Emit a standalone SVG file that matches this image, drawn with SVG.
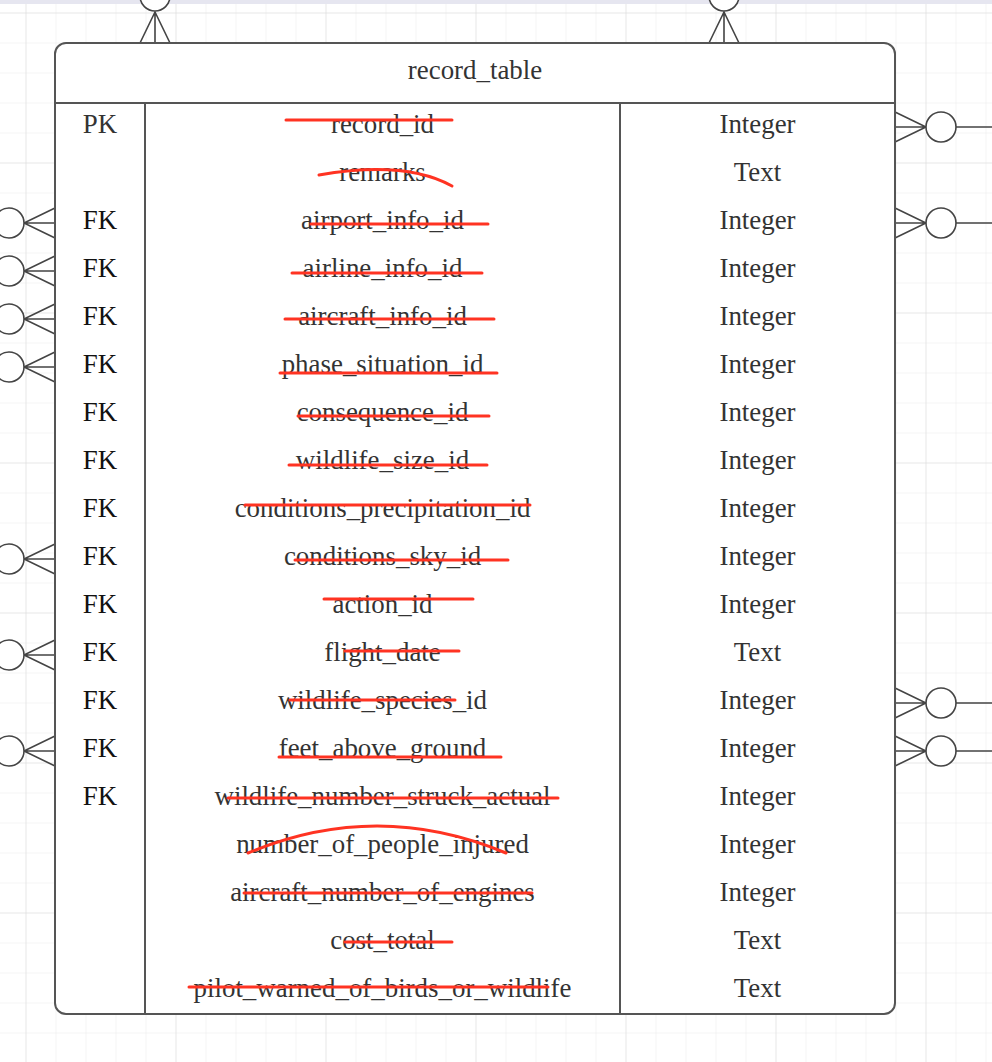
<svg xmlns="http://www.w3.org/2000/svg" width="992" height="1062" viewBox="0 0 992 1062">
<defs>
<pattern id="grid" x="25.5" y="12.5" width="30" height="30" patternUnits="userSpaceOnUse">
<path d="M0,0 H30 M0,0 V30" fill="none" stroke="#eaeaea" stroke-width="1"/>
</pattern>
<pattern id="gridMajor" x="25.5" y="12.5" width="150" height="150" patternUnits="userSpaceOnUse">
<path d="M0,0 H150 M0,0 V150" fill="none" stroke="#dedede" stroke-width="1"/>
</pattern>
</defs>
<style>
.t{font-family:"Liberation Serif","Times New Roman",serif;font-size:26.9px;fill:#333;text-anchor:middle}
.k{fill:#111}
.box{fill:#fff;stroke:#555;stroke-width:2}
.ln{stroke:#555;stroke-width:2;fill:none}
.cf{stroke:#444;stroke-width:1.6;fill:none}
.cc{stroke:#444;stroke-width:1.6;fill:#fff}
.s{stroke:#ff3322;stroke-width:3;fill:none;stroke-linecap:round}
</style>
<rect width="992" height="1062" fill="#fff"/>
<rect width="992" height="1062" fill="url(#grid)"/>
<rect width="992" height="1062" fill="url(#gridMajor)"/>
<rect width="992" height="4" fill="#e6e6f0"/>

<g id="connectors">
<path class="cf" d="M155,12 V43 M140,43 L155,12 L170,43"/>
<circle class="cc" cx="155" cy="-4" r="15"/>
<path class="cf" d="M724,12 V43 M709,43 L724,12 L739,43"/>
<circle class="cc" cx="724" cy="-4" r="15"/>
<g id="left-connectors">
<path class="cf" d="M24,223 H55 M55,208 L24,223 L55,238"/><circle class="cc" cx="9" cy="223" r="15"/>
<path class="cf" d="M24,271 H55 M55,256 L24,271 L55,286"/><circle class="cc" cx="9" cy="271" r="15"/>
<path class="cf" d="M24,319 H55 M55,304 L24,319 L55,334"/><circle class="cc" cx="9" cy="319" r="15"/>
<path class="cf" d="M24,367 H55 M55,352 L24,367 L55,382"/><circle class="cc" cx="9" cy="367" r="15"/>
<path class="cf" d="M24,559 H55 M55,544 L24,559 L55,574"/><circle class="cc" cx="9" cy="559" r="15"/>
<path class="cf" d="M24,655 H55 M55,640 L24,655 L55,670"/><circle class="cc" cx="9" cy="655" r="15"/>
<path class="cf" d="M24,751 H55 M55,736 L24,751 L55,766"/><circle class="cc" cx="9" cy="751" r="15"/>
</g>
<g id="right-connectors">
<path class="cf" d="M895,127 H926 M895,112 L926,127 L895,142 M956,127 H992"/><circle class="cc" cx="941" cy="127" r="15"/>
<path class="cf" d="M895,223 H926 M895,208 L926,223 L895,238 M956,223 H992"/><circle class="cc" cx="941" cy="223" r="15"/>
<path class="cf" d="M895,703 H926 M895,688 L926,703 L895,718 M956,703 H992"/><circle class="cc" cx="941" cy="703" r="15"/>
<path class="cf" d="M895,751 H926 M895,736 L926,751 L895,766 M956,751 H992"/><circle class="cc" cx="941" cy="751" r="15"/>
</g>
</g>

<g id="record_table">
<rect class="box" x="55" y="43" width="840" height="971" rx="11"/>
<path class="ln" d="M55,103 H895 M145,103 V1014 M620,103 V1014"/>
<text class="t" x="475" y="79">record_table</text>

<g id="keys">
<text class="t" x="100" y="133">PK</text>
<text class="t k" x="100" y="229">FK</text>
<text class="t k" x="100" y="277">FK</text>
<text class="t k" x="100" y="325">FK</text>
<text class="t k" x="100" y="373">FK</text>
<text class="t k" x="100" y="421">FK</text>
<text class="t k" x="100" y="469">FK</text>
<text class="t k" x="100" y="517">FK</text>
<text class="t k" x="100" y="565">FK</text>
<text class="t k" x="100" y="613">FK</text>
<text class="t k" x="100" y="661">FK</text>
<text class="t k" x="100" y="709">FK</text>
<text class="t k" x="100" y="757">FK</text>
<text class="t k" x="100" y="805">FK</text>
</g>

<g id="names">
<text class="t" x="382.5" y="133">record_id</text>
<text class="t" x="382.5" y="181">remarks</text>
<text class="t" x="382.5" y="229">airport_info_id</text>
<text class="t" x="382.5" y="277">airline_info_id</text>
<text class="t" x="382.5" y="325">aircraft_info_id</text>
<text class="t" x="382.5" y="373">phase_situation_id</text>
<text class="t" x="382.5" y="421">consequence_id</text>
<text class="t" x="382.5" y="469">wildlife_size_id</text>
<text class="t" x="382.5" y="517">conditions_precipitation_id</text>
<text class="t" x="382.5" y="565">conditions_sky_id</text>
<text class="t" x="382.5" y="613">action_id</text>
<text class="t" x="382.5" y="661">flight_date</text>
<text class="t" x="382.5" y="709">wildlife_species_id</text>
<text class="t" x="382.5" y="757">feet_above_ground</text>
<text class="t" x="382.5" y="805">wildlife_number_struck_actual</text>
<text class="t" x="382.5" y="853">number_of_people_injured</text>
<text class="t" x="382.5" y="901">aircraft_number_of_engines</text>
<text class="t" x="382.5" y="949">cost_total</text>
<text class="t" x="382.5" y="997">pilot_warned_of_birds_or_wildlife</text>
</g>

<g id="types">
<text class="t" x="757.5" y="133">Integer</text>
<text class="t" x="757.5" y="181">Text</text>
<text class="t" x="757.5" y="229">Integer</text>
<text class="t" x="757.5" y="277">Integer</text>
<text class="t" x="757.5" y="325">Integer</text>
<text class="t" x="757.5" y="373">Integer</text>
<text class="t" x="757.5" y="421">Integer</text>
<text class="t" x="757.5" y="469">Integer</text>
<text class="t" x="757.5" y="517">Integer</text>
<text class="t" x="757.5" y="565">Integer</text>
<text class="t" x="757.5" y="613">Integer</text>
<text class="t" x="757.5" y="661">Text</text>
<text class="t" x="757.5" y="709">Integer</text>
<text class="t" x="757.5" y="757">Integer</text>
<text class="t" x="757.5" y="805">Integer</text>
<text class="t" x="757.5" y="853">Integer</text>
<text class="t" x="757.5" y="901">Integer</text>
<text class="t" x="757.5" y="949">Text</text>
<text class="t" x="757.5" y="997">Text</text>
</g>
</g>

<g id="strikes">
<path class="s" d="M286,120 H452"/>
<path class="s" d="M319,175 Q405,160 452,186"/>
<path class="s" d="M311,224 H488"/>
<path class="s" d="M292,273 H482"/>
<path class="s" d="M285,319 H494"/>
<path class="s" d="M280,373 H497"/>
<path class="s" d="M298,416 H489"/>
<path class="s" d="M289,465 H487"/>
<path class="s" d="M245,505 H530"/>
<path class="s" d="M295,560 H508"/>
<path class="s" d="M324,599 H473"/>
<path class="s" d="M345,651 H459"/>
<path class="s" d="M290,700 H455"/>
<path class="s" d="M279,757 H501"/>
<path class="s" d="M228,798 H558"/>
<path class="s" d="M248,853 Q377,799 506,853"/>
<path class="s" d="M244,893 H532"/>
<path class="s" d="M345,942 H452"/>
<path class="s" d="M189,987 H548"/>
</g>
</svg>
